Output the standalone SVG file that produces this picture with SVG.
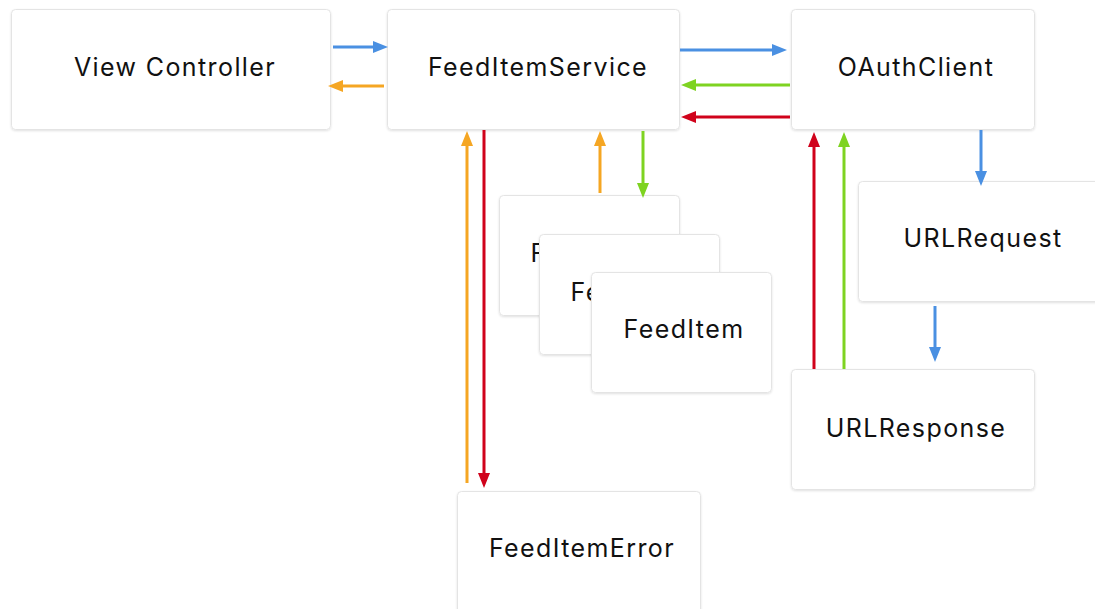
<svg xmlns="http://www.w3.org/2000/svg" width="1095" height="609" viewBox="0 0 1095 609">
<style>
.box{fill:#fff;stroke:#e4e4e4;stroke-width:1;filter:url(#sh)}
.lbl{font-family:Inter,"Liberation Sans",Arial,sans-serif;font-size:25px;font-weight:400;letter-spacing:1.4px;fill:#111;text-anchor:middle}
.c{stroke-width:3;fill:none}
.blue{stroke:#4A90E2}.orange{stroke:#F5A623}.green{stroke:#7ED321}.red{stroke:#D0021B}
</style>
<defs>
<filter id="sh" x="-10%" y="-10%" width="120%" height="130%"><feDropShadow dx="0" dy="1" stdDeviation="1.2" flood-color="#000" flood-opacity="0.12"/></filter>
<marker id="mb" markerUnits="userSpaceOnUse" markerWidth="15" markerHeight="12" refX="0" refY="6" orient="auto"><path d="M0,0 L15,6 L0,12 z" fill="#4A90E2"/></marker>
<marker id="mo" markerUnits="userSpaceOnUse" markerWidth="15" markerHeight="12" refX="0" refY="6" orient="auto"><path d="M0,0 L15,6 L0,12 z" fill="#F5A623"/></marker>
<marker id="mg" markerUnits="userSpaceOnUse" markerWidth="15" markerHeight="12" refX="0" refY="6" orient="auto"><path d="M0,0 L15,6 L0,12 z" fill="#7ED321"/></marker>
<marker id="mr" markerUnits="userSpaceOnUse" markerWidth="15" markerHeight="12" refX="0" refY="6" orient="auto"><path d="M0,0 L15,6 L0,12 z" fill="#D0021B"/></marker>
</defs>
<rect width="1095" height="609" fill="#fff"/>
<g id="view-controller"><rect class="box" x="11.5" y="9.5" width="319" height="120" rx="4"/><text class="lbl" x="175" y="76">View Controller</text></g>
<g id="feed-item-service"><rect class="box" x="387.5" y="9.5" width="292" height="120" rx="4"/><text class="lbl" x="538" y="76">FeedItemService</text></g>
<g id="oauth-client"><rect class="box" x="791.5" y="9.5" width="243" height="120" rx="4"/><text class="lbl" x="916" y="76">OAuthClient</text></g>
<g id="url-request"><rect class="box" x="858.5" y="181.5" width="245" height="120" rx="4"/><text class="lbl" x="983" y="247">URLRequest</text></g>
<g id="url-response"><rect class="box" x="791.5" y="369.5" width="243" height="120" rx="4"/><text class="lbl" x="916" y="437">URLResponse</text></g>
<g id="feed-item-1"><rect class="box" x="499.5" y="195.5" width="180" height="120" rx="4"/><text class="lbl" x="591" y="262">FeedItem</text></g>
<g id="feed-item-2"><rect class="box" x="539.5" y="234.5" width="180" height="120" rx="4"/><text class="lbl" x="631" y="301">FeedItem</text></g>
<g id="feed-item-3"><rect class="box" x="591.5" y="272.5" width="180" height="120" rx="4"/><text class="lbl" x="684" y="338">FeedItem</text></g>
<g id="feed-item-error"><rect class="box" x="457.5" y="491.5" width="243" height="130" rx="4"/><text class="lbl" x="582" y="557">FeedItemError</text></g>
<g id="connectors">
<line class="c blue" x1="333" y1="47" x2="373" y2="47" marker-end="url(#mb)"/>
<line class="c orange" x1="384" y1="86" x2="343" y2="86" marker-end="url(#mo)"/>
<line class="c blue" x1="680" y1="50" x2="772" y2="50" marker-end="url(#mb)"/>
<line class="c green" x1="790" y1="85" x2="696" y2="85" marker-end="url(#mg)"/>
<line class="c red" x1="790" y1="117" x2="696" y2="117" marker-end="url(#mr)"/>
<line class="c orange" x1="467" y1="483" x2="467" y2="146" marker-end="url(#mo)"/>
<line class="c red" x1="484" y1="130" x2="484" y2="473" marker-end="url(#mr)"/>
<line class="c orange" x1="600" y1="193" x2="600" y2="146" marker-end="url(#mo)"/>
<line class="c green" x1="643" y1="131" x2="643" y2="183" marker-end="url(#mg)"/>
<line class="c blue" x1="981" y1="130" x2="981" y2="171" marker-end="url(#mb)"/>
<line class="c blue" x1="935" y1="306" x2="935" y2="347" marker-end="url(#mb)"/>
<line class="c red" x1="814" y1="369" x2="814" y2="147" marker-end="url(#mr)"/>
<line class="c green" x1="844" y1="369" x2="844" y2="147" marker-end="url(#mg)"/>
</g>
</svg>
